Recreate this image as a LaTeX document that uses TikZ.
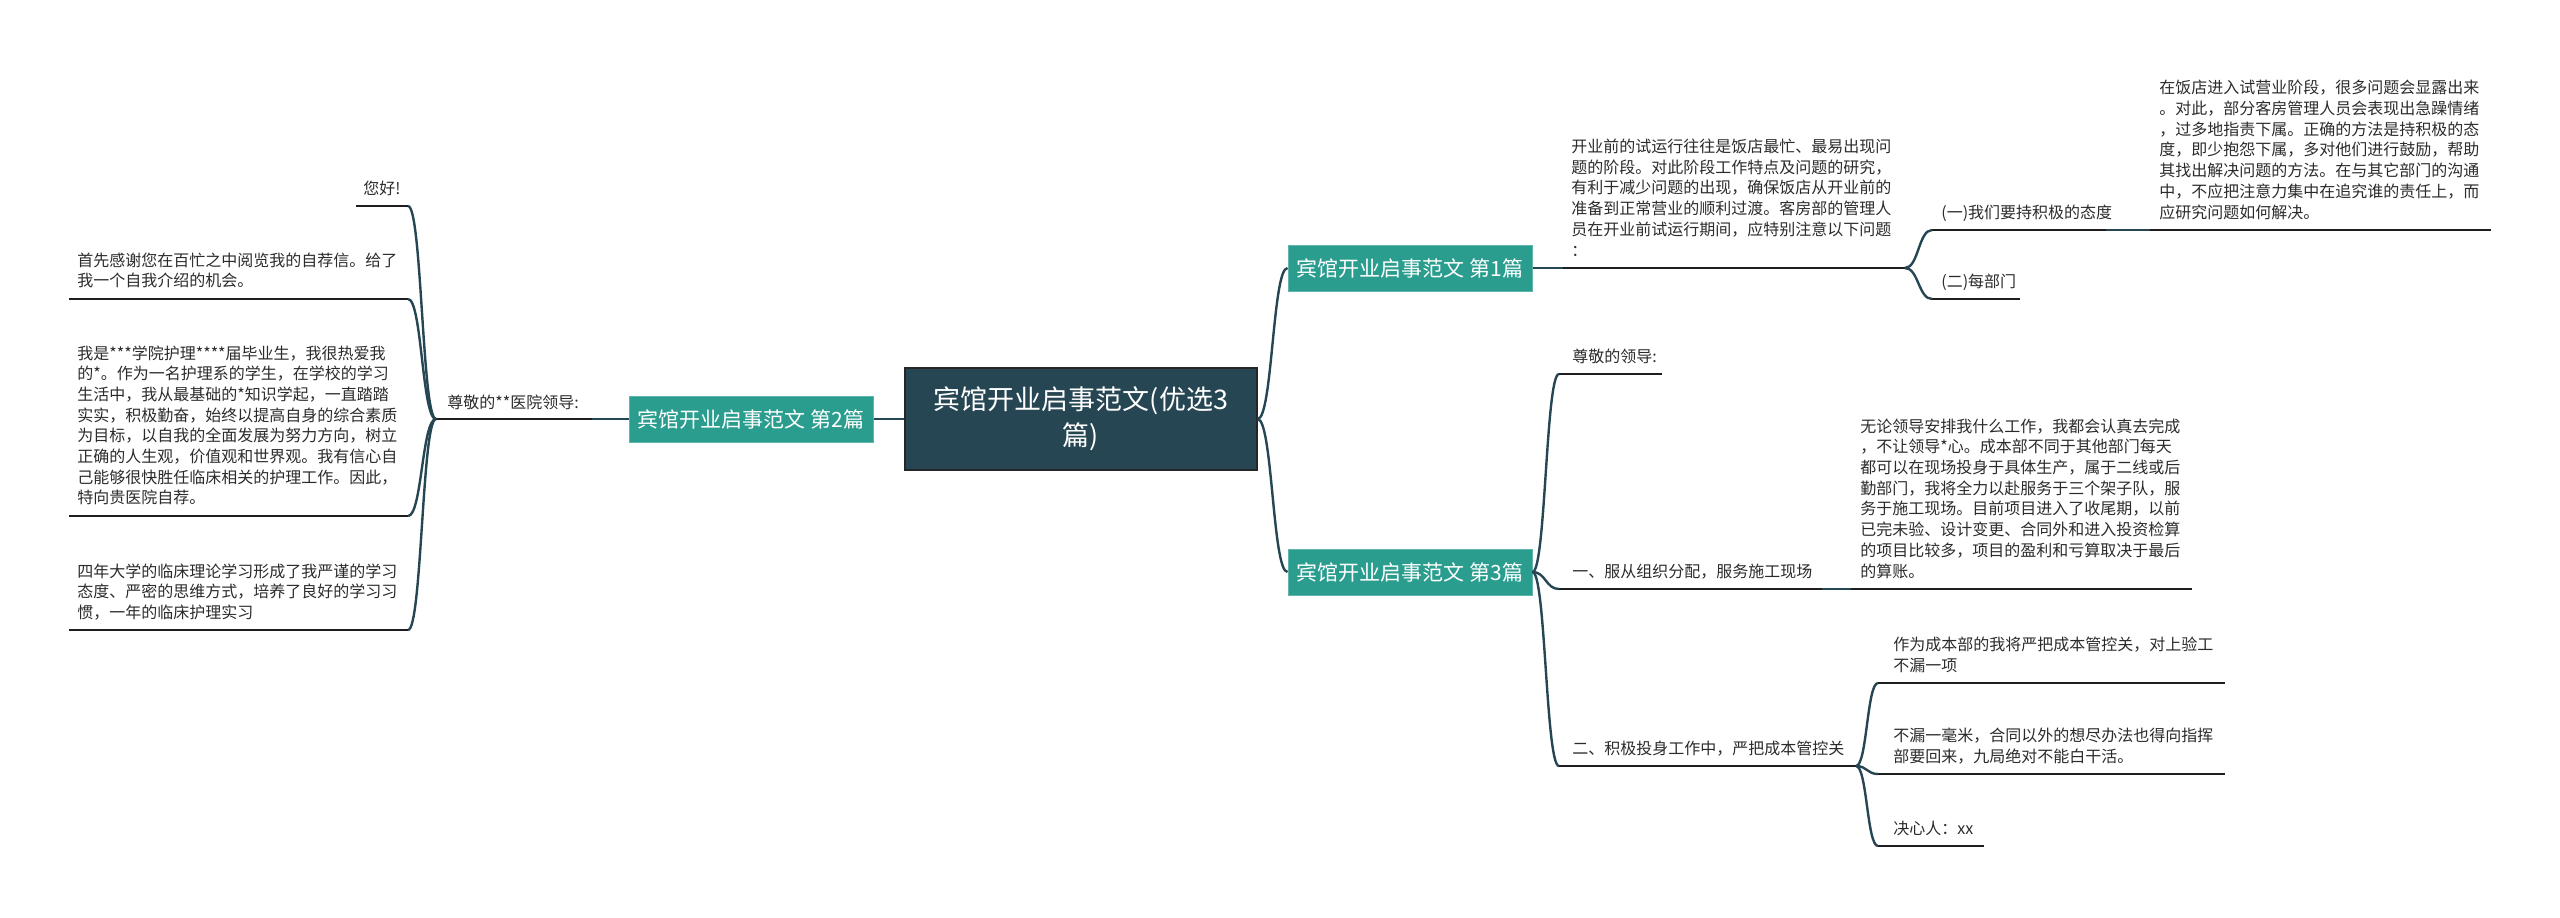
\documentclass[tikz,border=0pt]{standalone}
\usepackage{fontspec}
\setmainfont{Noto Sans CJK SC}
\usetikzlibrary{calc}
\definecolor{rootc}{HTML}{264653}
\definecolor{tealc}{HTML}{2A9D8F}
\definecolor{linec}{HTML}{264653}
\definecolor{ulc}{HTML}{1E1E1E}
\definecolor{txtc}{HTML}{2B2B2B}
\newcommand\ml[1]{\begin{tabular}[t]{@{}l@{}}#1\end{tabular}}
\newcommand\mmconn[2]{\path[conn] let \p1=(#1), \p2=(#2) in (\p1) .. controls ({0.5*\x1+0.5*\x2},\y1) and ({0.5*\x1+0.5*\x2},\y2) .. (\p2);}
\begin{document}
\begin{tikzpicture}[x=0.5pt,y=-0.5pt,
 topic/.style={font=\fontsize{8}{10.35}\selectfont, text=txtc, anchor=base west, inner sep=0pt},
 rootbox/.style={fill=rootc, draw=black!85, line width=0.6pt, text=white, font=\fontsize{13.5}{18}\selectfont, align=center, minimum width=176pt, minimum height=51pt, inner sep=0pt},
 branch/.style={fill=tealc, draw=tealc!75!white, line width=0.5pt, text=white, font=\fontsize{10.5}{12}\selectfont, minimum width=122pt, minimum height=23pt, inner sep=0pt},
 uline/.style={draw=ulc, line width=1.4pt},
 conn/.style={draw=linec, line width=1.2pt},
]
\useasboundingbox (0,0) rectangle (2560,917);

% main boxes
\node[rootbox] (root) at (1081,419) {宾馆开业启事范文(优选3\\篇)};
\node[branch] (b2) at (751,419) {宾馆开业启事范文 第2篇};
\node[branch] (b1) at (1410,268) {宾馆开业启事范文 第1篇};
\node[branch] (b3) at (1410,572) {宾馆开业启事范文 第3篇};

% ---------- left side ----------
\node[topic] (zj) at (447,408) {尊敬的**医院领导:};
\coordinate (zjL) at (436,419); \coordinate (zjR) at (592,419);

\node[topic] (nh) at (363,194) {您好!};
\coordinate (nhL) at (356,206); \coordinate (nhR) at (408,206);

\node[topic] (sx) at (77,266) {\ml{首先感谢您在百忙之中阅览我的自荐信。给了\\我一个自我介绍的机会。}};
\coordinate (sxL) at (69,299); \coordinate (sxR) at (408,299);

\node[topic] (ws) at (77,359) {\ml{我是***学院护理****届毕业生，我很热爱我\\的*。作为一名护理系的学生，在学校的学习\\生活中，我从最基础的*知识学起，一直踏踏\\实实，积极勤奋，始终以提高自身的综合素质\\为目标，以自我的全面发展为努力方向，树立\\正确的人生观，价值观和世界观。我有信心自\\己能够很快胜任临床相关的护理工作。因此，\\特向贵医院自荐。}};
\coordinate (wsL) at (69,516); \coordinate (wsR) at (408,516);

\node[topic] (sn) at (77,577) {\ml{四年大学的临床理论学习形成了我严谨的学习\\态度、严密的思维方式，培养了良好的学习习\\惯，一年的临床护理实习}};
\coordinate (snL) at (69,630); \coordinate (snR) at (408,630);

% ---------- branch 1 ----------
\node[topic] (ky) at (1571,152.5) {\ml{开业前的试运行往往是饭店最忙、最易出现问\\题的阶段。对此阶段工作特点及问题的研究，\\有利于减少问题的出现，确保饭店从开业前的\\准备到正常营业的顺利过渡。客房部的管理人\\员在开业前试运行期间，应特别注意以下问题\\：}};
\coordinate (kyL) at (1563,268); \coordinate (kyR) at (1905,268);

\node[topic] (y1) at (1941,218) {(一)我们要持积极的态度};
\coordinate (y1L) at (1932,230); \coordinate (y1R) at (2106,230);

\node[topic] (zf) at (2159,93.8) {\ml{在饭店进入试营业阶段，很多问题会显露出来\\。对此，部分客房管理人员会表现出急躁情绪\\，过多地指责下属。正确的方法是持积极的态\\度，即少抱怨下属，多对他们进行鼓励，帮助\\其找出解决问题的方法。在与其它部门的沟通\\中，不应把注意力集中在追究谁的责任上，而\\应研究问题如何解决。}};
\coordinate (zfL) at (2150,230); \coordinate (zfR) at (2491,230);

\node[topic] (e2) at (1941,287) {(二)每部门};
\coordinate (e2L) at (1932,299); \coordinate (e2R) at (2020,299);

% ---------- branch 3 ----------
\node[topic] (ld) at (1572,362) {尊敬的领导:};
\coordinate (ldL) at (1559,374); \coordinate (ldR) at (1662,374);

\node[topic] (fc) at (1572,577) {一、服从组织分配，服务施工现场};
\coordinate (fcL) at (1559,589); \coordinate (fcR) at (1822,589);

\node[topic] (wl) at (1860,432.1) {\ml{无论领导安排我什么工作，我都会认真去完成\\，不让领导*心。成本部不同于其他部门每天\\都可以在现场投身于具体生产，属于二线或后\\勤部门，我将全力以赴服务于三个架子队，服\\务于施工现场。目前项目进入了收尾期，以前\\已完未验、设计变更、合同外和进入投资检算\\的项目比较多，项目的盈利和亏算取决于最后\\的算账。}};
\coordinate (wlL) at (1851,589); \coordinate (wlR) at (2192,589);

\node[topic] (jj) at (1572,754) {二、积极投身工作中，严把成本管控关};
\coordinate (jjL) at (1559,766); \coordinate (jjR) at (1856,766);

\node[topic] (zw) at (1893,650.3) {\ml{作为成本部的我将严把成本管控关，对上验工\\不漏一项}};
\coordinate (zwL) at (1878,683); \coordinate (zwR) at (2225,683);

\node[topic] (bl) at (1893,741.3) {\ml{不漏一毫米，合同以外的想尽办法也得向指挥\\部要回来，九局绝对不能白干活。}};
\coordinate (blL) at (1878,774); \coordinate (blR) at (2225,774);

\node[topic] (jx) at (1893,834) {决心人：xx};
\coordinate (jxL) at (1878,846); \coordinate (jxR) at (1984,846);

% ---------- underlines ----------
\foreach \u in {zj,nh,sx,ws,sn,ky,y1,zf,e2,ld,fc,wl,jj,zw,bl,jx}
  \path[uline] (\u L) -- (\u R);

% ---------- connectors ----------
\path[conn] (b2.east) -- (b2.east -| root.west);
\path[conn] (zjR) -- (zjR -| b2.west);
\mmconn{zjL}{nhR}
\mmconn{zjL}{sxR}
\mmconn{zjL}{wsR}
\mmconn{zjL}{snR}

\mmconn{root.east}{b1.west}
\mmconn{root.east}{b3.west}

\path[conn] (b1.east) -- (kyL);
\mmconn{kyR}{y1L}
\mmconn{kyR}{e2L}
\path[conn] (y1R) -- (zfL);

\mmconn{b3.east}{ldL}
\mmconn{b3.east}{fcL}
\mmconn{b3.east}{jjL}
\path[conn] (fcR) -- (wlL);

\mmconn{jjR}{zwL}
\mmconn{jjR}{blL}
\mmconn{jjR}{jxL}
\end{tikzpicture}
\end{document}
